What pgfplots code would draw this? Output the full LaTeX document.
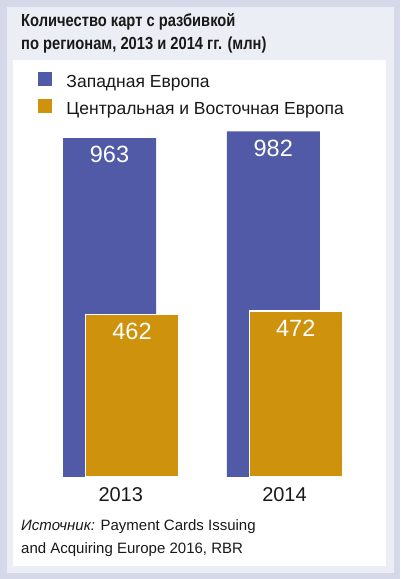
\documentclass[border=0pt]{standalone}
\usepackage{fontspec}
\setmainfont{Liberation Sans}
\newfontfamily\titlefont[FakeStretch=0.84]{Liberation Sans}
\usepackage{pgfplots}
\pgfplotsset{compat=1.18}
\definecolor{outerc}{RGB}{212,216,233}
\definecolor{panelc}{RGB}{236,238,245}
\definecolor{westc}{RGB}{80,90,166}
\definecolor{eastc}{RGB}{206,146,12}
\definecolor{textc}{RGB}{25,25,25}

\begin{document}
\begin{tikzpicture}
% frame and panels
\fill[outerc] (0pt,0pt) rectangle (400pt,579pt);
\fill[panelc] (7pt,6pt) rectangle (394pt,572pt);
\fill[white] (13pt,13pt) rectangle (386pt,519pt);

\node[anchor=base west, inner sep=0, text=textc,
      font=\titlefont\bfseries\fontsize{17.5}{17.5}\selectfont] at (21pt,552pt)
      {Количество карт с разбивкой};
\node[anchor=base west, inner sep=0, text=textc,
      font=\titlefont\bfseries\fontsize{17.5}{17.5}\selectfont] at (21pt,529pt)
      {по регионам, 2013 и 2014 гг. (млн)};

\begin{axis}[
    at={(120.75pt,102pt)}, anchor=origin,
    x=163.75pt, y=0.352pt,
    xmin=-0.65, xmax=1.62, ymin=0, ymax=1200,
    ybar, bar width=93pt,
    axis line style={draw=none},
    tick style={draw=none},
    ytick=\empty,
    xtick={0,1}, xticklabels={2013,2014},
    xticklabel style={anchor=base, yshift=-20pt, text=textc,
                      font=\fontsize{20}{20}\selectfont},
    /pgf/number format/assume math mode=true,
    nodes near coords,
    nodes near coords style={anchor=north, yshift=-5pt, text=white,
                             font=\fontsize{23.5}{23.5}\selectfont},
    legend image code/.code={\fill[#1, draw=none] (0pt,-4pt) rectangle (14pt,10pt);},
    legend cell align=left,
    legend style={at={(0.0564,0.9638)}, anchor=north west, draw=none, fill=none,
                  font=\fontsize{17.5}{17.5}\selectfont, text=textc,
                  row sep=8pt,
                  /tikz/every odd column/.append style={column sep=12pt}},
]
\addplot[fill=westc, draw=none, bar shift=-11.25pt]
    coordinates {(0,963) (1,982)};
\addplot[fill=eastc, draw=white, line width=1.5pt, bar shift=11.25pt]
    coordinates {(0,462) (1,472)};
\legend{Западная Европа, Центральная и Восточная Европа}
\end{axis}

\node[anchor=base west, inner sep=0, text=textc,
      font=\fontsize{15}{15}\selectfont] at (21pt,48pt)
      {\textit{Источник:} Payment Cards Issuing};
\node[anchor=base west, inner sep=0, text=textc,
      font=\fontsize{15}{15}\selectfont] at (21pt,26pt)
      {and Acquiring Europe 2016, RBR};

\pgfresetboundingbox
\useasboundingbox (0pt,0pt) rectangle (400pt,579pt);
\end{tikzpicture}
\end{document}
